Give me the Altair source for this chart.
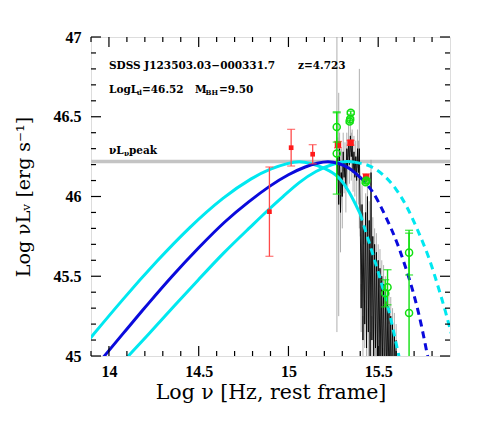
import altair as alt
import pandas as pd

# ---------------- data ----------------
x_major = [14.0, 14.5, 15.0, 15.5]
x_minor = [13.9, 14.1, 14.2, 14.3, 14.4, 14.6, 14.7, 14.8, 14.9, 15.1, 15.2, 15.3, 15.4, 15.6, 15.7, 15.8]
y_major = [45.0, 45.5, 46.0, 46.5, 47.0]
y_minor = [45.1, 45.2, 45.3, 45.4, 45.6, 45.7, 45.8, 45.9, 46.1, 46.2, 46.3, 46.4, 46.6, 46.7, 46.8, 46.9]

peak_level = [46.22]

blue_solid_x = [13.96, 14.10, 14.22, 14.35, 14.50, 14.65, 14.78, 14.90, 15.00, 15.10, 15.16, 15.22, 15.28, 15.34, 15.40]
blue_solid_y = [44.98, 45.17, 45.33, 45.50, 45.68, 45.85, 45.97, 46.07, 46.14, 46.19, 46.21, 46.222, 46.21, 46.18, 46.12]
blue_dash_x = [15.40, 15.47, 15.54, 15.60, 15.64, 15.68, 15.71, 15.74, 15.775, 15.79]
blue_dash_y = [46.12, 46.04, 45.88, 45.73, 45.60, 45.46, 45.34, 45.20, 45.00, 44.92]

cyanL_solid_x = [13.88, 14.08, 14.27, 14.45, 14.64, 14.80, 14.90, 15.00, 15.06, 15.12, 15.20, 15.28, 15.34, 15.40]
cyanL_solid_y = [45.09, 45.36, 45.60, 45.81, 46.00, 46.12, 46.175, 46.21, 46.222, 46.21, 46.18, 46.13, 46.03, 45.89]
cyanL_dash_x = [15.40, 15.45, 15.50, 15.56, 15.59, 15.615, 15.63]
cyanL_dash_y = [45.89, 45.71, 45.53, 45.29, 45.13, 45.00, 44.93]

cyanR_solid_x = [14.10, 14.24, 14.36, 14.50, 14.64, 14.78, 14.90, 14.97, 15.06, 15.15, 15.26, 15.33, 15.37]
cyanR_solid_y = [44.99, 45.16, 45.31, 45.48, 45.65, 45.80, 45.93, 46.00, 46.09, 46.16, 46.21, 46.222, 46.215]
cyanR_dash_x = [15.37, 15.45, 15.53, 15.60, 15.66, 15.72, 15.78, 15.83, 15.87, 15.91]
cyanR_dash_y = [46.215, 46.20, 46.14, 46.05, 45.94, 45.79, 45.63, 45.45, 45.30, 45.13]

red_x = [14.894, 15.015, 15.135, 15.276, 15.346, 15.433]
red_y = [45.905, 46.306, 46.265, 46.325, 46.337, 46.122]
red_err = [0.28, 0.115, 0.06, 0.02, 0.015, 0.02]
red_kind = ["phot", "phot", "phot", "uv", "uv", "uv"]

green_x = [15.269, 15.269, 15.341, 15.344, 15.347, 15.430, 15.434, 15.539, 15.552, 15.672, 15.672]
green_y = [46.436, 46.27, 46.47, 46.485, 46.525, 46.09, 46.10, 45.393, 45.431, 45.648, 45.27]
green_err = [0.095, 0.255, 0.01, 0.01, 0.01, 0.01, 0.01, 0.085, 0.11, 0.14, 0.5]

spec_x = [15.270, 15.275, 15.280, 15.285, 15.290, 15.295, 15.300, 15.305, 15.310, 15.315,
          15.320, 15.325, 15.330, 15.335, 15.340, 15.345, 15.350, 15.355, 15.360, 15.365,
          15.370, 15.375, 15.380, 15.385, 15.390, 15.395, 15.400, 15.405, 15.410, 15.415,
          15.420, 15.425, 15.430, 15.435, 15.440, 15.445, 15.450, 15.455, 15.460, 15.465,
          15.470, 15.475, 15.480, 15.485, 15.490, 15.495, 15.500, 15.505, 15.510, 15.515,
          15.520, 15.525, 15.530, 15.535, 15.540, 15.545, 15.550, 15.555, 15.560, 15.565,
          15.570, 15.575, 15.580, 15.585, 15.590, 15.595, 15.600]
spec_y = [46.10, 46.25, 45.95, 46.30, 45.90, 46.15, 46.00, 46.28, 46.12, 46.22,
          46.05, 46.30, 46.18, 46.35, 46.20, 46.38, 46.25, 46.32, 46.15, 46.28,
          46.12, 46.25, 46.10, 46.30, 46.15, 46.30, 45.85, 45.30, 45.95, 45.10,
          45.80, 45.20, 45.90, 45.05, 46.00, 45.15, 45.85, 45.00, 46.15, 45.10,
          45.75, 44.95, 45.70, 45.05, 45.65, 44.90, 45.60, 44.95, 45.55, 44.85,
          45.50, 44.90, 45.45, 44.80, 45.40, 44.85, 45.35, 44.80, 45.30, 44.75,
          45.25, 44.80, 45.20, 44.75, 45.15, 44.80, 45.10]
spec_err = [0.95, 0.12, 0.70, 0.10, 0.25, 0.15, 0.20, 0.12, 0.10, 0.12,
            0.15, 0.10, 0.12, 0.10, 0.12, 0.10, 0.15, 0.10, 0.12, 0.10,
            0.12, 0.10, 0.15, 0.12, 0.20, 0.50, 0.10, 0.15, 0.12, 0.15,
            0.10, 0.15, 0.12, 0.15, 0.10, 0.15, 0.12, 0.15, 0.08, 0.15,
            0.12, 0.15, 0.10, 0.15, 0.12, 0.15, 0.10, 0.15, 0.12, 0.15,
            0.10, 0.15, 0.12, 0.15, 0.10, 0.15, 0.12, 0.15, 0.10, 0.15,
            0.12, 0.15, 0.10, 0.15, 0.12, 0.15, 0.10]

# ---------------- styling ----------------
W, H = 359, 319
SERIF = "DejaVu Serif"
BLUE = "#0a0adc"
CYAN = "#00e8f0"
RED = "#ff1a1a"
GREEN = "#10e010"

xaxis = alt.Axis(values=x_major, format="~g", ticks=False, tickSize=0, domain=False, grid=False,
                 labelFont="Liberation Serif", labelFontSize=16, labelFontWeight="bold",
                 labelColor="black", labelPadding=7, labelFlush=False, labelOverlap=False,
                 title="Log ν [Hz, rest frame]", titleFont=SERIF, titleFontSize=20.5,
                 titleFontWeight="normal", titleColor="black", titleX=W / 2, titleY=36,
                 titleAlign="center", titleBaseline="middle")
yaxis = alt.Axis(values=y_major, format="~g", ticks=False, tickSize=0, domain=False, grid=False,
                 labelFont="Liberation Serif", labelFontSize=16, labelFontWeight="bold",
                 labelColor="black", labelPadding=10, labelFlush=False, labelOverlap=False,
                 title="Log νLᵥ [erg s⁻¹]", titleFont=SERIF, titleFontSize=19,
                 titleFontWeight="normal", titleColor="black", titleAngle=270,
                 titleX=-68, titleY=H / 2, titleAlign="center", titleBaseline="middle")
xscale = alt.Scale(domain=[13.9, 15.9], nice=False, zero=False)
yscale = alt.Scale(domain=[45.0, 47.0], nice=False, zero=False)


def X(f):
    return alt.X(f, type="quantitative", scale=xscale, axis=xaxis)


def Y(f):
    return alt.Y(f, type="quantitative", scale=yscale, axis=yaxis)


def Y2(f):
    return alt.Y2(f)


layers = []

# horizontal peak level
layers.append(alt.Chart(pd.DataFrame({"y": peak_level})).mark_rule(color="#c4c4c4", strokeWidth=3.5)
              .encode(y=Y("y"), x=alt.value(0), x2=alt.value(W)))

# spectrum
spec = pd.DataFrame({"x": spec_x, "y": spec_y, "e": spec_err})
spec["lo"] = spec["y"] - spec["e"]
spec["hi"] = spec["y"] + spec["e"]
layers.append(alt.Chart(spec).mark_rule(color="#9a9a9a", strokeWidth=0.8, clip=True)
              .encode(x=X("x"), y=Y("lo"), y2=Y2("hi")))
layers.append(alt.Chart(spec).mark_line(color="black", strokeWidth=0.9, clip=True)
              .encode(x=X("x"), y=Y("y")))


def curve(xs, ys, color, dashed):
    df = pd.DataFrame({"x": xs, "y": ys})
    kw = dict(color=color, strokeWidth=3, clip=True, interpolate="basis")
    if dashed:
        kw["strokeDash"] = [7, 5]
    return alt.Chart(df).mark_line(**kw).encode(x=X("x"), y=Y("y"))


layers.append(curve(cyanL_solid_x, cyanL_solid_y, CYAN, False))
layers.append(curve(cyanL_dash_x, cyanL_dash_y, CYAN, True))
layers.append(curve(cyanR_solid_x, cyanR_solid_y, CYAN, False))
layers.append(curve(cyanR_dash_x, cyanR_dash_y, CYAN, True))
layers.append(curve(blue_solid_x, blue_solid_y, BLUE, False))
layers.append(curve(blue_dash_x, blue_dash_y, BLUE, True))

# red photometry
red = pd.DataFrame({"x": red_x, "y": red_y, "e": red_err, "k": red_kind})
red["lo"] = red["y"] - red["e"]
red["hi"] = red["y"] + red["e"]
layers.append(alt.Chart(red).mark_rule(color="#ff4a4a", strokeWidth=1.3, clip=True)
              .encode(x=X("x"), y=Y("lo"), y2=Y2("hi")))
for f in ["lo", "hi"]:
    layers.append(alt.Chart(red).mark_tick(color="#ff4a4a", orient="horizontal", size=8, thickness=1.3, clip=True)
                  .encode(x=X("x"), y=Y(f)))
layers.append(alt.Chart(red).transform_filter(alt.datum.k == "phot")
              .mark_square(color=RED, size=22, opacity=1, clip=True).encode(x=X("x"), y=Y("y")))
layers.append(alt.Chart(red).transform_filter(alt.datum.k == "uv")
              .mark_square(color=RED, size=42, opacity=1, clip=True).encode(x=X("x"), y=Y("y")))

# green photometry
grn = pd.DataFrame({"x": green_x, "y": green_y, "e": green_err})
grn["lo"] = grn["y"] - grn["e"]
grn["hi"] = grn["y"] + grn["e"]
layers.append(alt.Chart(grn).mark_rule(color=GREEN, strokeWidth=1.4, clip=True)
              .encode(x=X("x"), y=Y("lo"), y2=Y2("hi")))
for f in ["lo", "hi"]:
    layers.append(alt.Chart(grn).mark_tick(color=GREEN, orient="horizontal", size=8, thickness=1.4, clip=True)
                  .encode(x=X("x"), y=Y(f)))
layers.append(alt.Chart(grn).mark_point(color=GREEN, size=50, strokeWidth=1.5, filled=False, opacity=1, clip=True)
              .encode(x=X("x"), y=Y("y")))

# inward ticks on all four sides
def xticks(vals, length):
    d = pd.DataFrame({"v": vals})
    bot = alt.Chart(d).mark_rule(color="black", strokeWidth=1.2).encode(x=X("v"), y=alt.value(H), y2=alt.value(H - length))
    top = alt.Chart(d).mark_rule(color="black", strokeWidth=1.2).encode(x=X("v"), y=alt.value(0), y2=alt.value(length))
    return [bot, top]


def yticks(vals, length):
    d = pd.DataFrame({"v": vals})
    lef = alt.Chart(d).mark_rule(color="black", strokeWidth=1.2).encode(y=Y("v"), x=alt.value(0), x2=alt.value(length))
    rig = alt.Chart(d).mark_rule(color="black", strokeWidth=1.2).encode(y=Y("v"), x=alt.value(W), x2=alt.value(W - length))
    return [lef, rig]


layers += xticks(x_major, 10) + xticks(x_minor, 5) + yticks(y_major, 10) + yticks(y_minor, 5)

# annotations
dummy = pd.DataFrame({"a": [0]})


def label(txt, px, py, size=10.5):
    return (alt.Chart(dummy).mark_text(font=SERIF, fontSize=size, fontWeight="bold", color="black",
                                       align="left", baseline="middle")
            .encode(x=alt.value(px), y=alt.value(py), text=alt.value(txt)))


layers += [
    label("SDSS J123503.03−000331.7", 18, 29),
    label("z=4.723", 207, 29),
    label("LogL", 18, 53),
    label("d", 46, 56, 7),
    label("=46.52", 51, 53),
    label("M", 104, 53),
    label("BH", 114.5, 56, 7),
    label("=9.50", 128, 53),
    label("νL", 18, 114),
    label("ν", 33, 117, 7.5),
    label("peak", 38, 114),
]

chart = (alt.layer(*layers)
         .properties(width=W, height=H,
                     autosize=alt.AutoSizeParams(type="none"),
                     padding={"left": 83, "top": 29, "right": 33, "bottom": 70})
         .configure_view(stroke="black", strokeWidth=1.5)
         .configure(background="white"))

chart.save("out.html", embed_options={"renderer": "svg", "actions": False})
